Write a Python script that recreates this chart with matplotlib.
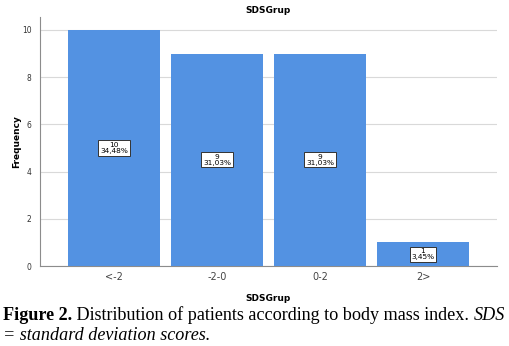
import matplotlib
matplotlib.use("Agg")
import matplotlib.pyplot as plt
import numpy as np

categories = ["<-2", "-2-0", "0-2", "2>"]
counts = [10, 9, 9, 1]
percents = ["34,48%", "31,03%", "31,03%", "3,45%"]
yticks = [0, 2, 4, 6, 8, 10]

fig = plt.figure(figsize=(5.10, 3.46), dpi=100)
ax = fig.add_axes([40/510, 1-266/346, (497-40)/510, (266-17)/346])
x = np.arange(len(categories))
ax.bar(x, counts, width=0.893, color="#5392e2", zorder=3)
ax.set_xlim(-0.718, 3.718)
ax.set_ylim(0, 10.55)
ax.set_yticks(yticks)
ax.set_yticklabels([str(t) for t in yticks], fontsize=5.5, color="#333333")
ax.set_xticks(x)
ax.set_xticklabels(categories, fontsize=7, color="#444444")
ax.tick_params(axis="y", length=0, pad=6)
ax.tick_params(axis="x", length=0, pad=4)
ax.grid(axis="y", color="#d9d9d9", linewidth=0.8, zorder=0)
for s in ["top", "right"]:
    ax.spines[s].set_visible(False)
for s in ["left", "bottom"]:
    ax.spines[s].set_color("#8c8c8c")
    ax.spines[s].set_linewidth(0.8)
ax.set_title("SDSGrup", fontsize=6.5, fontweight="bold", pad=3)
ax.set_xlabel("SDSGrup", fontsize=6.5, fontweight="bold", labelpad=9)
ax.set_ylabel("Frequency", fontsize=6.5, fontweight="bold", labelpad=1)

for xi, c, p in zip(x, counts, percents):
    ax.text(xi, c/2, f"{c}\n{p}", ha="center", va="center", fontsize=5.3,
            linespacing=0.9, zorder=5,
            bbox=dict(boxstyle="square,pad=0.25", fc="white", ec="#333333", lw=0.7))

# caption
fs = 13.1
renderer = fig.canvas.get_renderer()
def piece(xp, yp, s, **kw):
    t = fig.text(xp/510, 1-yp/346, s, fontsize=fs, family="Liberation Serif", va="baseline", **kw)
    bb = t.get_window_extent(renderer)
    return xp + bb.width
xp = 3
xp = piece(xp, 320, "Figure 2.", fontweight="bold")
xp = piece(xp, 320, " Distribution of patients according to body mass index. ")
xp = piece(xp, 320, "SDS", style="italic")
piece(3, 340, "= standard deviation scores.", style="italic")

fig.savefig("out.png", dpi=100)
